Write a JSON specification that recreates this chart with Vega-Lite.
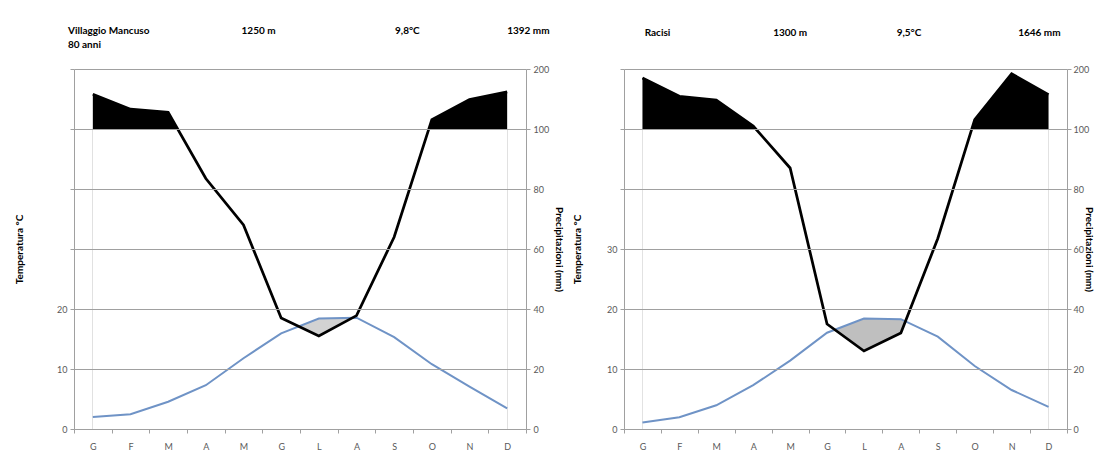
{
  "$schema": "https://vega.github.io/schema/vega-lite/v6.json",
  "background": "white",
  "padding": {"left": 14, "top": 26, "right": 0, "bottom": 0},
  "spacing": 8,
  "datasets": {
    "mancuso": [
      {"mese": "Gennaio", "temp": 2.0, "prec": 158},
      {"mese": "Febbraio", "temp": 2.45, "prec": 133},
      {"mese": "Marzo", "temp": 4.55, "prec": 128},
      {"mese": "Aprile", "temp": 7.3, "prec": 83.5},
      {"mese": "Maggio", "temp": 11.8, "prec": 68},
      {"mese": "Giugno", "temp": 15.95, "prec": 37},
      {"mese": "Luglio", "temp": 18.4, "prec": 31},
      {"mese": "Agosto", "temp": 18.55, "prec": 37.8},
      {"mese": "Settembre", "temp": 15.3, "prec": 64},
      {"mese": "Ottobre", "temp": 10.8, "prec": 115.5},
      {"mese": "Novembre", "temp": 7.05, "prec": 149},
      {"mese": "Dicembre", "temp": 3.45, "prec": 162}
    ],
    "racisi": [
      {"mese": "Gennaio", "temp": 1.1, "prec": 185},
      {"mese": "Febbraio", "temp": 1.95, "prec": 154.5},
      {"mese": "Marzo", "temp": 3.95, "prec": 148},
      {"mese": "Aprile", "temp": 7.3, "prec": 105},
      {"mese": "Maggio", "temp": 11.4, "prec": 87},
      {"mese": "Giugno", "temp": 16.05, "prec": 35},
      {"mese": "Luglio", "temp": 18.4, "prec": 26},
      {"mese": "Agosto", "temp": 18.3, "prec": 32},
      {"mese": "Settembre", "temp": 15.4, "prec": 63.5},
      {"mese": "Ottobre", "temp": 10.5, "prec": 115.6},
      {"mese": "Novembre", "temp": 6.5, "prec": 192},
      {"mese": "Dicembre", "temp": 3.7, "prec": 157}
    ]
  },
  "hconcat": [
    {
      "width": 452,
      "height": 360,
      "data": {"name": "mancuso"},
      "resolve": {"scale": {"y": "independent"}, "axis": {"y": "independent"}},
      "layer": [
        {
          "mark": {"type": "area", "color": "#000000"},
          "encoding": {
            "x": {"field": "mese", "type": "ordinal", "bandPosition": 0.5, "scale": {"type": "band", "domain": ["Gennaio","Febbraio","Marzo","Aprile","Maggio","Giugno","Luglio","Agosto","Settembre","Ottobre","Novembre","Dicembre"], "paddingInner": 0, "paddingOuter": 0}, "axis": {"title": null, "labelExpr": "substring(datum.label, 0, 1)", "tickBand": "extent", "labelAngle": 0, "zindex": 1}},
            "y": {"field": "prec", "type": "quantitative", "scale": {"domain": [0, 100, 200], "range": [360, 60, 0], "nice": false, "zero": false}, "axis": null},
            "y2": {"datum": 0}
          }
        },
        {
          "mark": {"type": "area", "color": "#ffffff"},
          "encoding": {
            "x": {"field": "mese", "type": "ordinal", "bandPosition": 0.5, "scale": {"type": "band", "domain": ["Gennaio","Febbraio","Marzo","Aprile","Maggio","Giugno","Luglio","Agosto","Settembre","Ottobre","Novembre","Dicembre"], "paddingInner": 0, "paddingOuter": 0}, "axis": {"title": null, "labelExpr": "substring(datum.label, 0, 1)", "tickBand": "extent", "labelAngle": 0, "zindex": 1}},
            "y": {"datum": 100, "type": "quantitative", "scale": {"domain": [0, 100, 200], "range": [360, 60, 0], "nice": false, "zero": false}, "axis": null},
            "y2": {"datum": 0}
          }
        },
        {
          "mark": {"type": "area", "color": "#d2d2d2"},
          "encoding": {
            "x": {"field": "mese", "type": "ordinal", "bandPosition": 0.5, "scale": {"type": "band", "domain": ["Gennaio","Febbraio","Marzo","Aprile","Maggio","Giugno","Luglio","Agosto","Settembre","Ottobre","Novembre","Dicembre"], "paddingInner": 0, "paddingOuter": 0}, "axis": {"title": null, "labelExpr": "substring(datum.label, 0, 1)", "tickBand": "extent", "labelAngle": 0, "zindex": 1}},
            "y": {"field": "temp", "type": "quantitative", "scale": {"domain": [0, 60], "nice": false, "zero": false}, "axis": null},
            "y2": {"datum": 0}
          }
        },
        {
          "mark": {"type": "area", "color": "#ffffff"},
          "encoding": {
            "x": {"field": "mese", "type": "ordinal", "bandPosition": 0.5, "scale": {"type": "band", "domain": ["Gennaio","Febbraio","Marzo","Aprile","Maggio","Giugno","Luglio","Agosto","Settembre","Ottobre","Novembre","Dicembre"], "paddingInner": 0, "paddingOuter": 0}, "axis": {"title": null, "labelExpr": "substring(datum.label, 0, 1)", "tickBand": "extent", "labelAngle": 0, "zindex": 1}},
            "y": {"field": "prec", "type": "quantitative", "scale": {"domain": [0, 100], "range": [360, 60], "clamp": true, "nice": false, "zero": false}, "axis": null},
            "y2": {"datum": 0}
          }
        },
        {
          "mark": {"type": "line", "color": "#6f93c6", "strokeWidth": 2},
          "encoding": {
            "x": {"field": "mese", "type": "ordinal", "bandPosition": 0.5, "scale": {"type": "band", "domain": ["Gennaio","Febbraio","Marzo","Aprile","Maggio","Giugno","Luglio","Agosto","Settembre","Ottobre","Novembre","Dicembre"], "paddingInner": 0, "paddingOuter": 0}, "axis": {"title": null, "labelExpr": "substring(datum.label, 0, 1)", "tickBand": "extent", "labelAngle": 0, "zindex": 1}},
            "y": {"field": "temp", "type": "quantitative", "scale": {"domain": [0, 60], "nice": false, "zero": false}, "axis": {"orient": "left", "title": "Temperatura °C", "values": [0, 10, 20, 30, 40, 50, 60], "labelExpr": "datum.value <= 20 ? datum.label : ''", "grid": true, "zindex": 1, "titlePadding": 32}}
          }
        },
        {
          "mark": {"type": "line", "color": "#000000", "strokeWidth": 2.75, "strokeJoin": "miter"},
          "encoding": {
            "x": {"field": "mese", "type": "ordinal", "bandPosition": 0.5, "scale": {"type": "band", "domain": ["Gennaio","Febbraio","Marzo","Aprile","Maggio","Giugno","Luglio","Agosto","Settembre","Ottobre","Novembre","Dicembre"], "paddingInner": 0, "paddingOuter": 0}, "axis": {"title": null, "labelExpr": "substring(datum.label, 0, 1)", "tickBand": "extent", "labelAngle": 0, "zindex": 1}},
            "y": {"field": "prec", "type": "quantitative", "scale": {"domain": [0, 100, 200], "range": [360, 60, 0], "nice": false, "zero": false}, "axis": {"orient": "right", "title": "Precipitazioni (mm)", "values": [0, 20, 40, 60, 80, 100, 200], "grid": false, "zindex": 1, "titlePadding": 5}}
          }
        },
        {
          "data": {"values": [{}]},
          "mark": {"type": "text", "text": "Villaggio Mancuso", "align": "left", "baseline": "middle", "fontWeight": "bold", "fontSize": 10, "dx": -6},
          "encoding": {
            "x": {"datum": "Gennaio", "type": "ordinal", "bandPosition": 0, "scale": {"type": "band", "domain": ["Gennaio","Febbraio","Marzo","Aprile","Maggio","Giugno","Luglio","Agosto","Settembre","Ottobre","Novembre","Dicembre"], "paddingInner": 0, "paddingOuter": 0}},
            "y": {"datum": 263, "type": "quantitative", "scale": {"domain": [0, 100, 200], "range": [360, 60, 0], "nice": false, "zero": false}, "axis": null}
          }
        },
        {
          "data": {"values": [{}]},
          "mark": {"type": "text", "text": "80 anni", "align": "left", "baseline": "middle", "fontWeight": "bold", "fontSize": 10, "dx": -6},
          "encoding": {
            "x": {"datum": "Gennaio", "type": "ordinal", "bandPosition": 0, "scale": {"type": "band", "domain": ["Gennaio","Febbraio","Marzo","Aprile","Maggio","Giugno","Luglio","Agosto","Settembre","Ottobre","Novembre","Dicembre"], "paddingInner": 0, "paddingOuter": 0}},
            "y": {"datum": 240, "type": "quantitative", "scale": {"domain": [0, 100, 200], "range": [360, 60, 0], "nice": false, "zero": false}, "axis": null}
          }
        },
        {
          "data": {"values": [{}]},
          "mark": {"type": "text", "text": "1250 m", "align": "center", "baseline": "middle", "fontWeight": "bold", "fontSize": 10},
          "encoding": {
            "x": {"datum": "Maggio", "type": "ordinal", "bandPosition": 0.9, "scale": {"type": "band", "domain": ["Gennaio","Febbraio","Marzo","Aprile","Maggio","Giugno","Luglio","Agosto","Settembre","Ottobre","Novembre","Dicembre"], "paddingInner": 0, "paddingOuter": 0}},
            "y": {"datum": 263, "type": "quantitative", "scale": {"domain": [0, 100, 200], "range": [360, 60, 0], "nice": false, "zero": false}, "axis": null}
          }
        },
        {
          "data": {"values": [{}]},
          "mark": {"type": "text", "text": "9,8°C", "align": "center", "baseline": "middle", "fontWeight": "bold", "fontSize": 10},
          "encoding": {
            "x": {"datum": "Settembre", "type": "ordinal", "bandPosition": 0.85, "scale": {"type": "band", "domain": ["Gennaio","Febbraio","Marzo","Aprile","Maggio","Giugno","Luglio","Agosto","Settembre","Ottobre","Novembre","Dicembre"], "paddingInner": 0, "paddingOuter": 0}},
            "y": {"datum": 263, "type": "quantitative", "scale": {"domain": [0, 100, 200], "range": [360, 60, 0], "nice": false, "zero": false}, "axis": null}
          }
        },
        {
          "data": {"values": [{}]},
          "mark": {"type": "text", "text": "1392 mm", "align": "left", "baseline": "middle", "fontWeight": "bold", "fontSize": 10},
          "encoding": {
            "x": {"datum": "Dicembre", "type": "ordinal", "bandPosition": 0.5, "scale": {"type": "band", "domain": ["Gennaio","Febbraio","Marzo","Aprile","Maggio","Giugno","Luglio","Agosto","Settembre","Ottobre","Novembre","Dicembre"], "paddingInner": 0, "paddingOuter": 0}},
            "y": {"datum": 263, "type": "quantitative", "scale": {"domain": [0, 100, 200], "range": [360, 60, 0], "nice": false, "zero": false}, "axis": null}
          }
        }
      ]
    },
    {
      "width": 443,
      "height": 360,
      "data": {"name": "racisi"},
      "resolve": {"scale": {"y": "independent"}, "axis": {"y": "independent"}},
      "layer": [
        {
          "mark": {"type": "area", "color": "#000000"},
          "encoding": {
            "x": {"field": "mese", "type": "ordinal", "bandPosition": 0.5, "scale": {"type": "band", "domain": ["Gennaio","Febbraio","Marzo","Aprile","Maggio","Giugno","Luglio","Agosto","Settembre","Ottobre","Novembre","Dicembre"], "paddingInner": 0, "paddingOuter": 0}, "axis": {"title": null, "labelExpr": "substring(datum.label, 0, 1)", "tickBand": "extent", "labelAngle": 0, "zindex": 1}},
            "y": {"field": "prec", "type": "quantitative", "scale": {"domain": [0, 100, 200], "range": [360, 60, 0], "nice": false, "zero": false}, "axis": null},
            "y2": {"datum": 0}
          }
        },
        {
          "mark": {"type": "area", "color": "#ffffff"},
          "encoding": {
            "x": {"field": "mese", "type": "ordinal", "bandPosition": 0.5, "scale": {"type": "band", "domain": ["Gennaio","Febbraio","Marzo","Aprile","Maggio","Giugno","Luglio","Agosto","Settembre","Ottobre","Novembre","Dicembre"], "paddingInner": 0, "paddingOuter": 0}, "axis": {"title": null, "labelExpr": "substring(datum.label, 0, 1)", "tickBand": "extent", "labelAngle": 0, "zindex": 1}},
            "y": {"datum": 100, "type": "quantitative", "scale": {"domain": [0, 100, 200], "range": [360, 60, 0], "nice": false, "zero": false}, "axis": null},
            "y2": {"datum": 0}
          }
        },
        {
          "mark": {"type": "area", "color": "#bfbfbf"},
          "encoding": {
            "x": {"field": "mese", "type": "ordinal", "bandPosition": 0.5, "scale": {"type": "band", "domain": ["Gennaio","Febbraio","Marzo","Aprile","Maggio","Giugno","Luglio","Agosto","Settembre","Ottobre","Novembre","Dicembre"], "paddingInner": 0, "paddingOuter": 0}, "axis": {"title": null, "labelExpr": "substring(datum.label, 0, 1)", "tickBand": "extent", "labelAngle": 0, "zindex": 1}},
            "y": {"field": "temp", "type": "quantitative", "scale": {"domain": [0, 60], "nice": false, "zero": false}, "axis": null},
            "y2": {"datum": 0}
          }
        },
        {
          "mark": {"type": "area", "color": "#ffffff"},
          "encoding": {
            "x": {"field": "mese", "type": "ordinal", "bandPosition": 0.5, "scale": {"type": "band", "domain": ["Gennaio","Febbraio","Marzo","Aprile","Maggio","Giugno","Luglio","Agosto","Settembre","Ottobre","Novembre","Dicembre"], "paddingInner": 0, "paddingOuter": 0}, "axis": {"title": null, "labelExpr": "substring(datum.label, 0, 1)", "tickBand": "extent", "labelAngle": 0, "zindex": 1}},
            "y": {"field": "prec", "type": "quantitative", "scale": {"domain": [0, 100], "range": [360, 60], "clamp": true, "nice": false, "zero": false}, "axis": null},
            "y2": {"datum": 0}
          }
        },
        {
          "mark": {"type": "line", "color": "#6f93c6", "strokeWidth": 2},
          "encoding": {
            "x": {"field": "mese", "type": "ordinal", "bandPosition": 0.5, "scale": {"type": "band", "domain": ["Gennaio","Febbraio","Marzo","Aprile","Maggio","Giugno","Luglio","Agosto","Settembre","Ottobre","Novembre","Dicembre"], "paddingInner": 0, "paddingOuter": 0}, "axis": {"title": null, "labelExpr": "substring(datum.label, 0, 1)", "tickBand": "extent", "labelAngle": 0, "zindex": 1}},
            "y": {"field": "temp", "type": "quantitative", "scale": {"domain": [0, 60], "nice": false, "zero": false}, "axis": {"orient": "left", "title": "Temperatura °C", "values": [0, 10, 20, 30, 40, 50, 60], "labelExpr": "datum.value <= 30 ? datum.label : ''", "grid": true, "zindex": 1, "titlePadding": 24}}
          }
        },
        {
          "mark": {"type": "line", "color": "#000000", "strokeWidth": 2.75, "strokeJoin": "miter"},
          "encoding": {
            "x": {"field": "mese", "type": "ordinal", "bandPosition": 0.5, "scale": {"type": "band", "domain": ["Gennaio","Febbraio","Marzo","Aprile","Maggio","Giugno","Luglio","Agosto","Settembre","Ottobre","Novembre","Dicembre"], "paddingInner": 0, "paddingOuter": 0}, "axis": {"title": null, "labelExpr": "substring(datum.label, 0, 1)", "tickBand": "extent", "labelAngle": 0, "zindex": 1}},
            "y": {"field": "prec", "type": "quantitative", "scale": {"domain": [0, 100, 200], "range": [360, 60, 0], "nice": false, "zero": false}, "axis": {"orient": "right", "title": "Precipitazioni (mm)", "values": [0, 20, 40, 60, 80, 100, 200], "grid": false, "zindex": 1, "titlePadding": -5, "labelPadding": 2}}
          }
        },
        {
          "data": {"values": [{}]},
          "mark": {"type": "text", "text": "Racisi", "align": "left", "baseline": "middle", "fontWeight": "bold", "fontSize": 10},
          "encoding": {
            "x": {"datum": "Gennaio", "type": "ordinal", "bandPosition": 0.56, "scale": {"type": "band", "domain": ["Gennaio","Febbraio","Marzo","Aprile","Maggio","Giugno","Luglio","Agosto","Settembre","Ottobre","Novembre","Dicembre"], "paddingInner": 0, "paddingOuter": 0}},
            "y": {"datum": 260, "type": "quantitative", "scale": {"domain": [0, 100, 200], "range": [360, 60, 0], "nice": false, "zero": false}, "axis": null}
          }
        },
        {
          "data": {"values": [{}]},
          "mark": {"type": "text", "text": "1300 m", "align": "center", "baseline": "middle", "fontWeight": "bold", "fontSize": 10},
          "encoding": {
            "x": {"datum": "Maggio", "type": "ordinal", "bandPosition": 0.5, "scale": {"type": "band", "domain": ["Gennaio","Febbraio","Marzo","Aprile","Maggio","Giugno","Luglio","Agosto","Settembre","Ottobre","Novembre","Dicembre"], "paddingInner": 0, "paddingOuter": 0}},
            "y": {"datum": 260, "type": "quantitative", "scale": {"domain": [0, 100, 200], "range": [360, 60, 0], "nice": false, "zero": false}, "axis": null}
          }
        },
        {
          "data": {"values": [{}]},
          "mark": {"type": "text", "text": "9,5°C", "align": "center", "baseline": "middle", "fontWeight": "bold", "fontSize": 10},
          "encoding": {
            "x": {"datum": "Agosto", "type": "ordinal", "bandPosition": 0.72, "scale": {"type": "band", "domain": ["Gennaio","Febbraio","Marzo","Aprile","Maggio","Giugno","Luglio","Agosto","Settembre","Ottobre","Novembre","Dicembre"], "paddingInner": 0, "paddingOuter": 0}},
            "y": {"datum": 260, "type": "quantitative", "scale": {"domain": [0, 100, 200], "range": [360, 60, 0], "nice": false, "zero": false}, "axis": null}
          }
        },
        {
          "data": {"values": [{}]},
          "mark": {"type": "text", "text": "1646 mm", "align": "center", "baseline": "middle", "fontWeight": "bold", "fontSize": 10},
          "encoding": {
            "x": {"datum": "Dicembre", "type": "ordinal", "bandPosition": 0.25, "scale": {"type": "band", "domain": ["Gennaio","Febbraio","Marzo","Aprile","Maggio","Giugno","Luglio","Agosto","Settembre","Ottobre","Novembre","Dicembre"], "paddingInner": 0, "paddingOuter": 0}},
            "y": {"datum": 260, "type": "quantitative", "scale": {"domain": [0, 100, 200], "range": [360, 60, 0], "nice": false, "zero": false}, "axis": null}
          }
        }
      ]
    }
  ],
  "config": {
    "font": "Lato",
    "view": {"stroke": null},
    "axis": {
      "labelFont": "Lato",
      "labelFontSize": 9,
      "labelColor": "#595959",
      "titleFont": "Lato",
      "titleFontSize": 10,
      "titleFontWeight": "bold",
      "titleColor": "#000000",
      "domainColor": "#a0a0a0",
      "tickColor": "#a0a0a0",
      "gridColor": "#a0a0a0",
      "gridOpacity": 1,
      "tickSize": 4,
      "labelPadding": 3
    },
    "axisX": {"labelPadding": 9, "grid": false},
    "text": {"color": "#000000"}
  }
}
